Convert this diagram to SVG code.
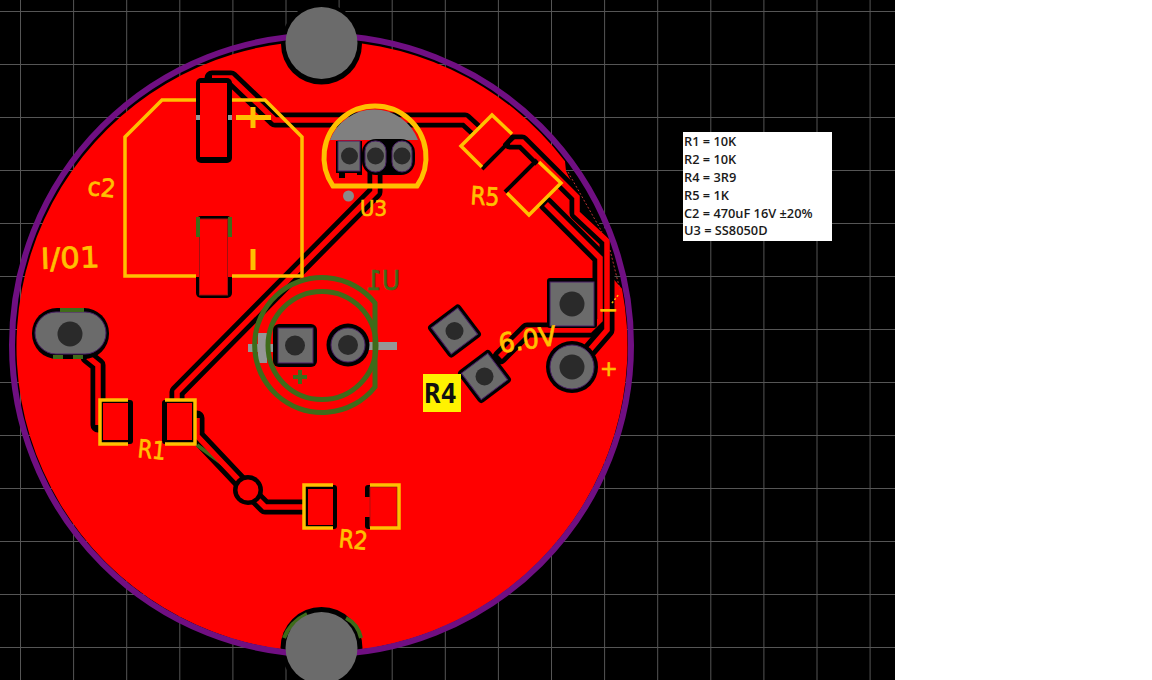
<svg xmlns="http://www.w3.org/2000/svg" width="1152" height="680" viewBox="0 0 1152 680">
<style>
.grid{stroke:#555;stroke-width:1;fill:none}
.tb{fill:none;stroke:#000;stroke-width:15;stroke-linejoin:round;stroke-linecap:round}
.tr{fill:none;stroke:#f00;stroke-width:5.5;stroke-linejoin:miter;stroke-linecap:butt}
.y{fill:none;stroke:#ffc000;stroke-width:3.5;stroke-linecap:butt;stroke-linejoin:miter}
.g{fill:none;stroke:#3f6b1a;stroke-width:5}
.gr{fill:#6b6b6b;stroke:#4a1f66;stroke-width:1}
.h{fill:#2a2a2a}
.k{fill:#000}
.r{fill:#f00}
.tick{fill:#969696}
.gb{fill:#3f6b1a}
.silk{font-family:"DejaVu Sans",sans-serif;fill:#ffc000;stroke:#ffc000;stroke-width:.7}
.leg{font-family:"Open Sans","Liberation Sans",sans-serif;font-size:12.8px;font-weight:600;fill:#1a1a1a}
</style>
<rect width="1152" height="680" fill="#000"/>
<g id="grid">
<path class="grid" d="M20.5 0V680M73.6 0V680M126.7 0V680M179.8 0V680M232.9 0V680M286 0V680M339.1 0V680M392.2 0V680M445.3 0V680M498.4 0V680M551.5 0V680M604.6 0V680M657.7 0V680M710.8 0V680M763.9 0V680M817 0V680M870.1 0V680"/>
<path class="grid" d="M0 11.5H895M0 64.5H895M0 117.5H895M0 170.5H895M0 223.5H895M0 276.5H895M0 329.5H895M0 382.5H895M0 435.5H895M0 488.5H895M0 541.5H895M0 594.5H895M0 647.5H895"/>
</g>
<rect x="895" y="0" width="257" height="680" fill="#fff"/>
<path id="board" class="r" d="M565 161.300L566 171L578 195L580 213L605 240L610 275L622 288.800A305.500 305.500 0 1 1 565 161.300Z"/>
<g id="connectors">
<path class="tb" d="M212 78H231L275 120H465L490 143"/>
<path class="tb" d="M510 142H522L577 197V213L607 241V330L588 352"/>
<path class="tb" d="M500 357L527 330H590L600 320V258L546 204"/>
<path class="tb" d="M375 170V192L177 392V402"/>
<path class="tb" d="M88 357L98 365V425"/>
<path class="tb" d="M197 418V436L248 490L265 507H305"/>
<path class="g" style="stroke-width:4" d="M197 445L228 468"/>
<path class="tr" d="M212 78H231L275 120H465L490 143"/>
<path class="tr" d="M510 142H522L577 197V213L607 241V330L588 352"/>
<path class="tr" d="M500 357L527 330H590L600 320V258L546 204"/>
<path class="tr" d="M375 170V192L177 392V402"/>
<path class="tr" d="M88 357L98 365V425"/>
<path class="tr" d="M197 418V436L248 490L265 507H305"/>
<path fill="none" stroke="#b33" stroke-width="1" stroke-dasharray="2 2" d="M568 172L602 232M610 250L620 290"/>
<path fill="none" stroke="#ffc000" stroke-width="1.500" stroke-dasharray="2 2" d="M612 303L619 294"/>
</g>
<g id="hole-top"><circle class="k" cx="321.5" cy="44" r="40.500"/></g>
<g id="hole-bottom-ring"><circle class="k" cx="321.5" cy="648" r="41"/>
<path class="g" style="stroke-width:4" d="M284 638Q290 622 307 614M346 618Q358 624 361 638"/></g>
<circle id="outline" cx="321.5" cy="345" r="309.5" fill="none" stroke="#700f82" stroke-width="6"/>
<circle cx="321.5" cy="43" r="36" fill="#6b6b6b"/>
<circle cx="321.5" cy="648" r="36" fill="#6b6b6b"/>
<g id="C2">
<path class="y" d="M196 100H162L125 137V276H196M232 276H302V137L265 100H232"/>
<rect class="k" x="196" y="78" width="36" height="85" rx="5"/>
<rect class="r" x="200" y="83" width="27" height="74"/>
<rect class="tick" x="196" y="115" width="4" height="5"/><rect class="tick" x="228" y="115" width="4" height="5"/>
<rect class="k" x="196" y="216" width="36" height="82" rx="5"/>
<rect class="r" x="200" y="219" width="27" height="76"/>
<rect class="r" x="196" y="237" width="36" height="40"/>
<rect x="199.5" y="219" width="28" height="76" fill="none" stroke="#a01010" stroke-width="1"/>
<rect class="gb" x="196" y="217" width="4" height="20"/><rect class="gb" x="228" y="217" width="4" height="20"/>
<path d="M236 117.500H271M253 107V128M253 249V270" fill="none" stroke="#ffc000" stroke-width="5"/>
<text class="silk" font-size="25" textLength="28" lengthAdjust="spacingAndGlyphs" transform="translate(87 195) rotate(5)">c2</text>
<text class="silk" font-size="29" textLength="59" lengthAdjust="spacingAndGlyphs" transform="translate(41 269) rotate(-2)">I/01</text>
</g>
<g id="U3">
<path d="M333 186A51 51 0 1 1 417 186Z" fill="none" stroke="#ffc000" stroke-width="5"/>
<path d="M330 140A47 47 0 0 1 418 140Z" fill="#808080"/>
<rect class="k" x="336" y="141" width="26" height="32"/>
<rect class="k" x="339" y="170" width="6" height="8"/><rect class="k" x="357" y="170" width="5" height="5"/>
<rect class="k" x="362" y="139" width="53" height="36" rx="14"/>
<rect class="gr" x="338" y="141" width="22" height="30"/>
<rect class="gr" x="365" y="141" width="21" height="31" rx="10"/>
<rect class="gr" x="392" y="141" width="20" height="31" rx="10"/>
<circle class="h" cx="349.500" cy="156" r="8.500"/><circle class="h" cx="375.500" cy="156" r="8.500"/><circle class="h" cx="402" cy="156" r="8.500"/>
<circle cx="348.500" cy="196" r="5.500" fill="#8a8a8a"/>
<text class="silk" font-size="22" textLength="27" lengthAdjust="spacingAndGlyphs" x="360" y="216">U3</text>
</g>
<g id="R5">
<path class="r" d="M492 115L512 134L482 167L461 146Z"/>
<path d="M482 169L514 137" fill="none" stroke="#000" stroke-width="4"/>
<path class="y" d="M512 134L492 115L461 146L482 167"/>
<path class="r" d="M539 162L561 183L529 215L507 193Z"/>
<path d="M505 192L537 160" fill="none" stroke="#000" stroke-width="4"/>
<path class="y" d="M539 162L561 183L529 215L507 193"/>
<text class="silk" font-size="25" textLength="29" lengthAdjust="spacingAndGlyphs" transform="translate(470 204) rotate(4)">R5</text>
</g>
<g id="U1">
<path class="tick" d="M248 344H277V352H267V362H258V352H248Z"/>
<rect class="tick" x="258" y="333" width="9" height="30"/>
<rect class="tick" x="367" y="342" width="30" height="8"/>
<path class="g" d="M375 303A67.500 67.500 0 1 0 375 387Z"/>
<circle class="g" cx="322" cy="345.500" r="54"/>
<path class="g" style="stroke-width:4" d="M293 377H307M300 370V384"/>
<rect class="k" x="273" y="324" width="44" height="43" rx="6"/>
<rect class="gr" x="278" y="328" width="35" height="35"/>
<circle class="h" cx="295" cy="345.500" r="10"/>
<circle class="k" cx="348" cy="345" r="21.500"/>
<circle class="gr" cx="348" cy="345" r="17"/>
<circle class="h" cx="348" cy="345" r="10"/>
<text font-family="DejaVu Sans,sans-serif" font-size="27" fill="#3f6b1a" stroke="#3f6b1a" stroke-width=".6" textLength="34" lengthAdjust="spacingAndGlyphs" transform="translate(400 290) scale(-1 1)">U1</text>
</g>
<g id="pad-a"><rect class="k" x="-20" y="-20" width="40" height="40" rx="4" transform="translate(454.500 331) rotate(-37)"/><rect class="gr" x="-16.500" y="-16.500" width="33" height="33" transform="translate(454.500 331) rotate(-37)"/><circle class="h" cx="454.500" cy="331" r="9"/></g>
<g id="pad-b"><rect class="k" x="-20" y="-20" width="40" height="40" rx="4" transform="translate(484.500 376.500) rotate(-37)"/><rect class="gr" x="-16.500" y="-16.500" width="33" height="33" transform="translate(484.500 376.500) rotate(-37)"/><circle class="h" cx="484.500" cy="376.500" r="9"/></g>
<g id="pad-minus"><rect class="k" x="547" y="278" width="50" height="50" rx="3"/><rect class="gr" x="550" y="282" width="44" height="44"/><circle class="h" cx="572" cy="304" r="12.500"/>
<text class="silk" font-size="24" x="598" y="318">−</text></g>
<g id="pad-plus"><circle class="k" cx="572" cy="367" r="26"/><circle class="gr" cx="572" cy="367" r="22"/><circle class="h" cx="572" cy="367" r="12.500"/>
<text class="silk" font-size="21" x="600" y="376">+</text></g>
<text class="silk" font-size="27" textLength="58" lengthAdjust="spacingAndGlyphs" transform="translate(500 353) rotate(-8)">6.0V</text>
<g id="J1">
<rect class="k" x="32" y="308" width="77" height="51" rx="25"/>
<rect class="gr" x="35" y="312" width="71" height="42" rx="21"/>
<circle class="h" cx="70" cy="334" r="12.500"/>
<rect class="gb" x="60" y="308" width="24" height="4"/><rect class="gb" x="53" y="355" width="10" height="4"/><rect class="gb" x="73" y="355" width="10" height="4"/>
</g>
<g id="R1">
<rect class="k" x="99" y="400" width="34" height="44" rx="3"/><rect class="r" x="103" y="403" width="25" height="37"/>
<path class="y" d="M128 400H100V444H128"/>
<rect class="k" x="162" y="400" width="34" height="44" rx="3"/><rect class="r" x="167" y="403" width="25" height="37"/>
<path class="y" d="M165 400H195V444H165"/>
<text class="silk" font-size="25" textLength="28" lengthAdjust="spacingAndGlyphs" transform="translate(137 457) rotate(6)">R1</text>
</g>
<g id="via"><circle class="k" cx="248" cy="490" r="15"/><circle class="r" cx="248" cy="490" r="10.500"/></g>
<g id="R2">
<rect class="k" x="304" y="485" width="33" height="44" rx="3"/><rect class="r" x="308" y="489" width="25" height="36"/>
<path class="y" d="M333 485H304V528H333"/>
<rect class="k" x="365" y="485" width="34" height="44" rx="3"/><rect class="r" x="365" y="497" width="6" height="20"/><rect class="r" x="370" y="487" width="27" height="40"/>
<rect x="370" y="487" width="27" height="40" fill="none" stroke="#b01010" stroke-width="1"/>
<path class="y" d="M370 485H399V528H370"/>
<text class="silk" font-size="25" textLength="29" lengthAdjust="spacingAndGlyphs" transform="translate(338 547) rotate(6)">R2</text>
</g>
<g id="R4-label"><rect x="423" y="374" width="38" height="38" fill="#fff200"/>
<text x="440.500" y="403" text-anchor="middle" font-family="DejaVu Sans Mono,monospace" font-weight="700" font-size="27" fill="#111">R4</text></g>
<g id="legend"><rect x="683" y="132" width="149" height="109" fill="#fff"/>
<text class="leg" x="684" y="146">R1 = 10K</text>
<text class="leg" x="684" y="164">R2 = 10K</text>
<text class="leg" x="684" y="182">R4 = 3R9</text>
<text class="leg" x="684" y="200">R5 = 1K</text>
<text class="leg" x="684" y="218">C2 = 470uF 16V ±20%</text>
<text class="leg" x="684" y="235">U3 = SS8050D</text></g>
</svg>
